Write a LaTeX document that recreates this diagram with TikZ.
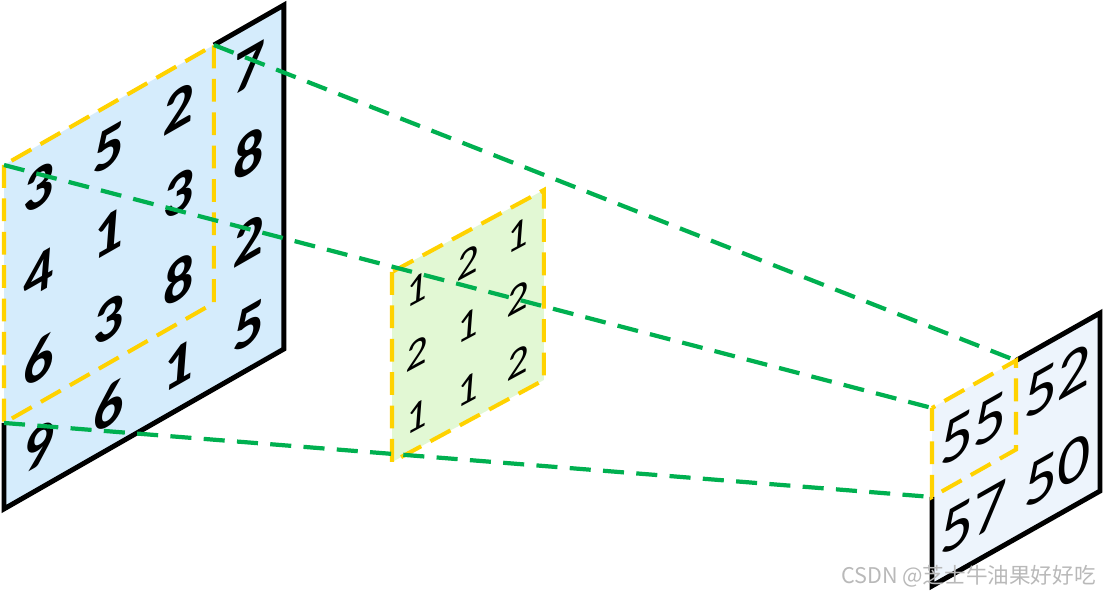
\documentclass[tikz,border=0pt]{standalone}
\usepackage{fontspec}
\setmainfont{Carlito}
\newfontfamily\cjkfont{Noto Sans CJK SC}
\definecolor{inblue}{RGB}{213,236,252}
\definecolor{kerngreen}{RGB}{226,248,212}
\definecolor{outblue}{RGB}{237,244,252}
\definecolor{winyellow}{RGB}{255,210,0}
\definecolor{linkgreen}{RGB}{0,176,80}
\definecolor{marktext}{RGB}{185,185,185}

\begin{document}
\begin{tikzpicture}[x=0.02cm,y=0.02cm,
  frame/.style={line width=2.8pt,black,line join=miter},
  window/.style={line width=2.3pt,winyellow,dash pattern=on 13pt off 6pt},
  link/.style={line width=2.4pt,linkgreen,dash pattern=on 12pt off 7pt},
  innum/.style={transform shape,xslant=0.08,font=\fontsize{34}{36}\selectfont\bfseries},
  kernnum/.style={transform shape,xslant=0.08,font=\fontsize{24}{26}\selectfont},
  outnum/.style={transform shape,xslant=0.06,font=\fontsize{37}{39}\selectfont}]
\useasboundingbox (0,0) rectangle (1105,595);

% input feature map 4x4
\begin{scope}[shift={(4,430)},x=1.4cm,y=1.72cm,yslant=0.5714]
\fill[inblue] (0,0) rectangle (4,-4);
\draw[frame] (3,0) -- (4,0) -- (4,-4) -- (0,-4) -- (0,-3);
\draw[window] (0,0) rectangle (3,-3);
\foreach \row/\vals in {0/{3,5,2,7},1/{4,1,3,8},2/{6,3,8,2},3/{9,6,1,5}}
  \foreach \v [count=\col from 0] in \vals
    \node[innum] (in-\row-\col) at (\col+0.5,-\row-0.5) {\v};
\coordinate (in-tl) at (0,0);
\coordinate (in-tr) at (3,0);
\coordinate (in-bl) at (0,-3);
\end{scope}

% kernel 3x3
\begin{scope}[shift={(392,323)},x=1.013cm,y=1.267cm,yslant=0.54]
\fill[kerngreen] (0,0) rectangle (3,-3);
\draw[window] (0,0) rectangle (3,-3);
\foreach \row/\vals in {0/{1,2,1},1/{2,1,2},2/{1,1,2}}
  \foreach \v [count=\col from 0] in \vals
    \node[kernnum] (k-\row-\col) at (\col+0.5,-\row-0.5) {\v};
\end{scope}

% output feature map 2x2
\begin{scope}[shift={(932,187)},x=1.68cm,y=1.78cm,yslant=0.565]
\fill[outblue] (0,0) rectangle (2,-2);
\draw[frame] (1,0) -- (2,0) -- (2,-2) -- (0,-2) -- (0,-1);
\draw[window] (0,0) rectangle (1,-1);
\foreach \row/\vals in {0/{55,52},1/{57,50}}
  \foreach \v [count=\col from 0] in \vals
    \node[outnum] (out-\row-\col) at (\col+0.5,-\row-0.5) {\v};
\coordinate (out-tl) at (0,0);
\coordinate (out-tr) at (1,0);
\coordinate (out-bl) at (0,-1);
\end{scope}

% projection lines
\draw[link] (in-tr) -- (out-tr);
\draw[link] (in-tl) -- (out-tl);
\draw[link] (in-bl) -- (out-bl);

\node[anchor=east,text=marktext,font=\cjkfont\fontsize{12.3}{14}\selectfont] (mark) at (1102,19) {CSDN @芝士牛油果好好吃};
\end{tikzpicture}
\end{document}
